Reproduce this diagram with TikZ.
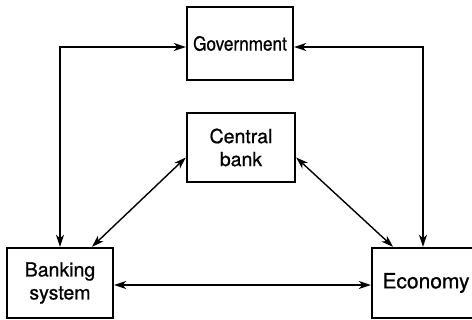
\documentclass[tikz,border=0pt]{standalone}
\usepackage{fontspec}
\setmainfont[FakeBold=0.8,BoldFont=TeX Gyre Heros]{TeX Gyre Heros}
\usetikzlibrary{arrows.meta}
\begin{document}
\begin{tikzpicture}[x=1pt,y=1pt,
  box/.style={draw,line width=2.4pt,align=center,inner sep=0pt,
    font=\fontsize{19.5}{23}\selectfont\bfseries},
  link/.style={line width=1.4pt,{Stealth[length=12pt,width=8pt,inset=3.5pt]}-{Stealth[length=12pt,width=8pt,inset=3.5pt]}}]
\useasboundingbox (0,0) rectangle (472,320);
\node[box,minimum width=106pt,minimum height=73pt] (gov) at (240,276.5) {\scalebox{0.88}[1]{Government}};
\node[box,minimum width=108pt,minimum height=69pt] (cb) at (241,172.5) {Central\\bank};
\node[box,minimum width=106pt,minimum height=70pt] (bank) at (60,37) {Banking\\system};
\node[box,minimum width=108pt,minimum height=70pt,font=\fontsize{21}{24}\selectfont\bfseries] (econ) at (426,37) {Economy};
\draw[link] ([yshift=-3.5]gov.west) -| (bank.north);
\draw[link] ([yshift=-3.5]gov.east) -| ([xshift=-3]econ.north);
\draw[link] ([yshift=-10]cb.west) -- ([xshift=32]bank.north);
\draw[link] ([yshift=-10]cb.east) -- ([xshift=-33]econ.north);
\draw[link] ([yshift=-2]bank.east) -- ([yshift=-2]econ.west);
\end{tikzpicture}
\end{document}
